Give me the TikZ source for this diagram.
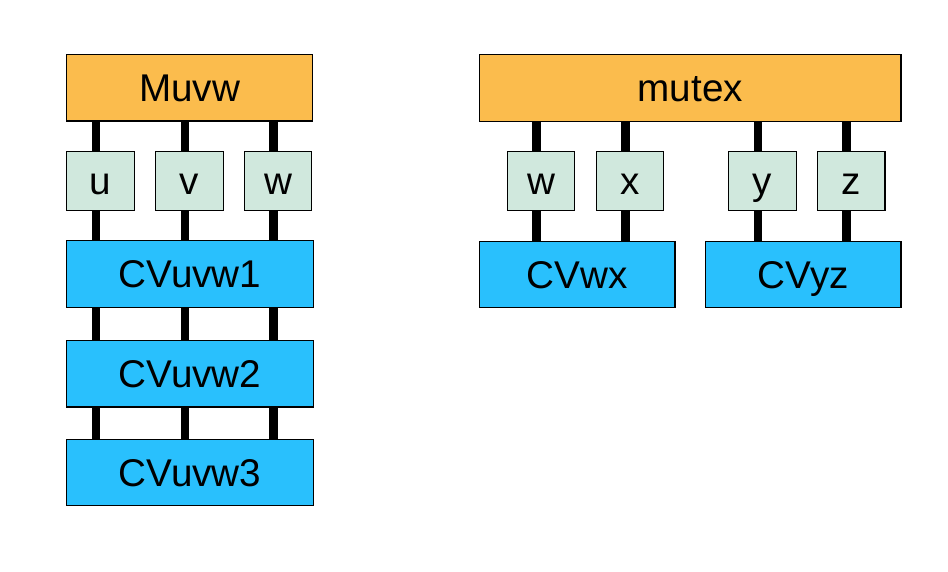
\documentclass[tikz,border=0pt]{standalone}
\usepackage{fontspec}
\setmainfont{Liberation Sans}
\usepackage{xcolor}
\definecolor{lockorange}{HTML}{FBBC4D}
\definecolor{varmint}{HTML}{D0E8DD}
\definecolor{cvblue}{HTML}{29C0FD}

\tikzset{
  box/.style={draw=black, line width=0.8pt, inner sep=0pt, minimum height=1.33cm,
    font=\fontsize{22}{26}\selectfont, text height=15.75pt, text depth=0pt},
  lock/.style={box, fill=lockorange},
  var/.style={box, fill=varmint, minimum width=1.35cm, minimum height=1.17cm},
  cv/.style={box, fill=cvblue},
  link/.style={line width=5pt, black}
}

\begin{document}
\begin{tikzpicture}[x=0.02cm, y=-0.02cm]
        \useasboundingbox (0,0) rectangle (948,572);

        % Left group
        \node[lock, minimum width=4.91cm] (muvw) at (189.5, 87.7) {Muvw};
        \node[var] (u) at (100.5, 181) {u};
        \node[var] (v) at (189.5, 181) {v};
        \node[var] (w) at (278, 181) {w};
        \node[cv, minimum width=4.93cm] (cvuvw1) at (190, 274) {CVuvw1};
        \node[cv, minimum width=4.93cm] (cvuvw2) at (190, 373.7) {CVuvw2};
        \node[cv, minimum width=4.93cm] (cvuvw3) at (190, 472.5) {CVuvw3};

        \foreach \n in {u,v,w}{
            \draw[link] ([xshift=-0.09cm]\n.north) -- ([xshift=-0.09cm]\n.north |- muvw.south);
            \draw[link] ([xshift=-0.09cm]\n.south) -- ([xshift=-0.09cm]\n.south |- cvuvw1.north);
            \draw[link] ([xshift=-0.09cm]\n.south |- cvuvw1.south) -- ([xshift=-0.09cm]\n.south |- cvuvw2.north);
            \draw[link] ([xshift=-0.09cm]\n.south |- cvuvw2.south) -- ([xshift=-0.09cm]\n.south |- cvuvw3.north);
        }

        % Right group
        \node[lock, minimum width=8.43cm] (mutex) at (690.2, 88) {mutex};
        \node[var] (w2) at (541, 181) {w};
        \node[var] (x) at (630, 181) {x};
        \node[var] (y) at (762.5, 181) {y};
        \node[var] (z) at (851.3, 181) {z};
        \node[cv, minimum width=3.91cm] (cvwx) at (577.2, 274.5) {CVwx};
        \node[cv, minimum width=3.91cm] (cvyz) at (803.4, 274.5) {CVyz};

        \foreach \n/\c in {w2/cvwx, x/cvwx, y/cvyz, z/cvyz}{
            \draw[link] ([xshift=-0.09cm]\n.north) -- ([xshift=-0.09cm]\n.north |- mutex.south);
            \draw[link] ([xshift=-0.09cm]\n.south) -- ([xshift=-0.09cm]\n.south |- \c.north);
        }
\end{tikzpicture}
\end{document}
